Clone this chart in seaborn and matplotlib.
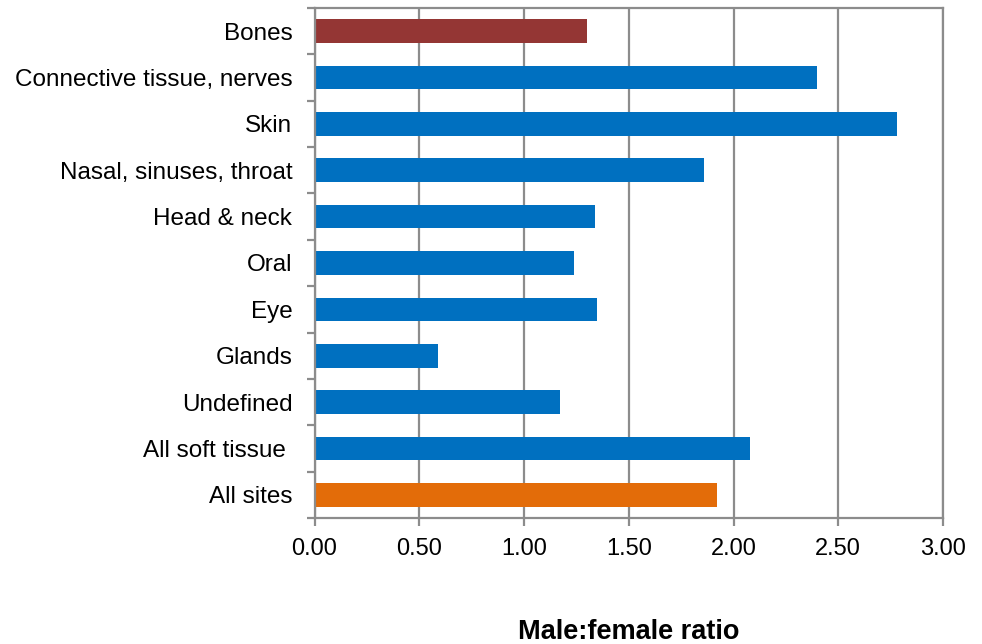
import matplotlib
matplotlib.use("Agg")
import matplotlib.pyplot as plt
import seaborn as sns
import pandas as pd
import numpy as np

categories = ["Bones", "Connective tissue, nerves", "Skin", "Nasal, sinuses, throat",
              "Head & neck", "Oral", "Eye", "Glands", "Undefined", "All soft tissue ",
              "All sites"]
ratios = [1.30, 2.40, 2.78, 1.86, 1.34, 1.24, 1.35, 0.59, 1.17, 2.08, 1.92]
bar_colors = ["#943634", "#0070C0", "#0070C0", "#0070C0", "#0070C0", "#0070C0",
              "#0070C0", "#0070C0", "#0070C0", "#0070C0", "#E36C09"]
x_ticks = [0.0, 0.5, 1.0, 1.5, 2.0, 2.5, 3.0]

sns.set_theme(style="white")
plt.rcParams["font.family"] = ["Liberation Sans", "DejaVu Sans"]

df = pd.DataFrame({"site": categories, "ratio": ratios})
palette = dict(zip(categories, bar_colors))

fig = plt.figure(figsize=(9.82, 6.44), dpi=100)
ax = fig.add_axes([0.3203, 0.1957, 0.9603 - 0.3203, 0.9876 - 0.1957])

sns.barplot(data=df, x="ratio", y="site", hue="site", palette=palette,
            order=categories, hue_order=categories, orient="h",
            width=0.51, legend=False, saturation=1, ax=ax, edgecolor="none")

grid_col = "#8C8C8C"
ax.set_xlim(0, 3.0)
ax.set_ylim(len(categories) - 0.5, -0.5)
ax.set_xticks(x_ticks)
ax.set_xticklabels([f"{t:.2f}" for t in x_ticks], fontsize=17, color="#000000")
ax.xaxis.grid(True, color=grid_col, linewidth=1.6)
ax.set_axisbelow(True)

# category labels, tick marks at the category boundaries
ax.set_yticks(range(len(categories)))
ax.set_yticklabels(categories, fontsize=17.5, color="#000000")
ax.set_yticks(np.arange(-0.5, len(categories), 1.0), minor=True)
ax.tick_params(axis="y", which="major", length=0, pad=16)
ax.tick_params(axis="y", which="minor", left=True, length=6, width=1.6, color=grid_col)
ax.tick_params(axis="x", which="major", bottom=True, length=6, width=1.6,
               color=grid_col, pad=8.5)

for side in ["left", "bottom", "top", "right"]:
    ax.spines[side].set_visible(True)
    ax.spines[side].set_color(grid_col)
    ax.spines[side].set_linewidth(1.6)

ax.set_ylabel("")
ax.set_xlabel("Male:female ratio", fontsize=19.5, fontweight="bold", color="#000000",
              labelpad=42.5)

fig.savefig("out.png", dpi=100)
